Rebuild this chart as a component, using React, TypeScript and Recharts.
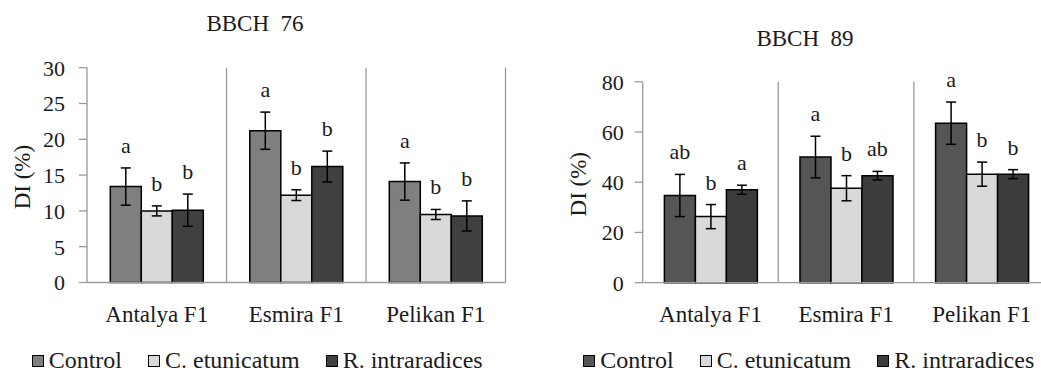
import React from 'react';
import { BarChart, Bar, XAxis, YAxis, CartesianGrid, ErrorBar, LabelList } from 'recharts';

const cultivars = ['Antalya F1', 'Esmira F1', 'Pelikan F1'];
const treatments = ['Control', 'C. etunicatum', 'R. intraradices'];

// BBCH 76
const control76 = [13.4, 21.2, 14.1];
const control76Err = [2.6, 2.6, 2.6];
const etun76 = [10.0, 12.2, 9.5];
const etun76Err = [0.7, 0.75, 0.7];
const intra76 = [10.1, 16.2, 9.3];
const intra76Err = [2.25, 2.15, 2.1];
const letters76 = [
  ['a', 'a', 'a'],
  ['b', 'b', 'b'],
  ['b', 'b', 'b'],
];
const ticks76 = [0, 5, 10, 15, 20, 25, 30];

// BBCH 89
const control89 = [34.7, 50.0, 63.5];
const control89Err = [8.4, 8.3, 8.4];
const etun89 = [26.3, 37.6, 43.2];
const etun89Err = [4.8, 5.0, 4.8];
const intra89 = [37.0, 42.6, 43.2];
const intra89Err = [1.8, 1.7, 1.8];
const letters89 = [
  ['ab', 'a', 'a'],
  ['b', 'b', 'b'],
  ['a', 'ab', 'b'],
];
const ticks89 = [0, 20, 40, 60, 80];

const FONT = '"Liberation Serif", "Times New Roman", serif';
const TEXT = '#1a1a1a';
const AXIS = '#9a9a9a';

const buildRows = (c: number[], ce: number[], e: number[], ee: number[], r: number[], re: number[]) =>
  cultivars.map((name, i) => ({
    name,
    control: c[i], controlErr: ce[i],
    etun: e[i], etunErr: ee[i],
    intra: r[i], intraErr: re[i],
  }));

const rows76 = buildRows(control76, control76Err, etun76, etun76Err, intra76, intra76Err);
const rows89 = buildRows(control89, control89Err, etun89, etun89Err, intra89, intra89Err);

// significance letter sits a little above the error bar cap
const makeLetter = (letters: string[], errs: number[]) => (props: any) => {
  const { x, y, width, height, value, index } = props;
  const v = Number(value);
  if (!v) return null;
  const px = Number(height) / v;
  const top = Number(y) - errs[index] * px;
  return (
    <text x={Number(x) + Number(width) / 2} y={top - 15} textAnchor="middle"
      fontFamily={FONT} fontSize={22} fill={TEXT}>
      {letters[index]}
    </text>
  );
};

const YLabel = (props: any) => {
  const vb = props.viewBox || {};
  const cx = vb.x + vb.width - 64;
  const cy = vb.y + vb.height / 2 + 2;
  return (
    <text x={cx} y={cy} transform={`rotate(-90 ${cx} ${cy})`} textAnchor="middle"
      dominantBaseline="central" fontFamily={FONT} fontSize={23} fill={TEXT}>
      DI (%)
    </text>
  );
};

type PanelProps = {
  title: string;
  rows: any[];
  letters: string[][];
  colors: string[];
  ticks: number[];
  left: number;
  width: number;
  chartWidth: number;
  margin: { top: number; right: number; bottom: number; left: number };
  titleX: number;
  titleTop: number;
  catGap: string;
  tickMargin: number;
  legendLeft: number;
};

const keys = ['control', 'etun', 'intra'];

const Panel = (p: PanelProps) => {
  const errCols = keys.map((k) => p.rows.map((r) => r[k + 'Err']));
  return (
    <div style={{ position: 'absolute', left: p.left, top: 0, width: p.width, height: 372, overflow: 'hidden' }}>
      <div style={{ position: 'absolute', left: p.titleX - 100, width: 200, top: p.titleTop, textAlign: 'center',
        fontFamily: FONT, fontSize: 23, lineHeight: '23px', color: TEXT, whiteSpace: 'pre' }}>
        {p.title}
      </div>
      <BarChart width={p.chartWidth} height={372} data={p.rows} margin={p.margin}
        barCategoryGap={p.catGap} barGap={0}>
        <CartesianGrid horizontal={false} stroke={AXIS} strokeWidth={1.3}
          verticalCoordinatesGenerator={({ offset }: any) =>
            [1, 2, 3].map((k) => offset.left + (offset.width * k) / 3)} />
        <XAxis dataKey="name" tickLine={false} tickSize={0} tickMargin={23} height={40}
          axisLine={{ stroke: AXIS, strokeWidth: 1.3 }}
          tick={{ fontFamily: FONT, fontSize: 23, fill: TEXT }} />
        <YAxis width={80} domain={[p.ticks[0], p.ticks[p.ticks.length - 1]]} ticks={p.ticks}
          interval={0} tickSize={8} tickMargin={p.tickMargin}
          axisLine={{ stroke: AXIS, strokeWidth: 1.3 }} tickLine={{ stroke: AXIS, strokeWidth: 1.3 }}
          tick={{ fontFamily: FONT, fontSize: 22, fill: TEXT }}
          label={<YLabel />} />
        {keys.map((k, i) => (
          <Bar key={k} dataKey={k} name={treatments[i]} fill={p.colors[i]} stroke="#000" strokeWidth={1.5}
            isAnimationActive={false}>
            <ErrorBar dataKey={k + 'Err'} direction="y" width={5} stroke="#000" strokeWidth={1.5}
              isAnimationActive={false} />
            <LabelList dataKey={k} content={makeLetter(p.letters[i], errCols[i])} />
          </Bar>
        ))}
      </BarChart>
      <div style={{ position: 'absolute', left: p.legendLeft, top: 348, display: 'flex', alignItems: 'center',
        fontFamily: FONT, fontSize: 24, lineHeight: '24px', color: TEXT, whiteSpace: 'nowrap' }}>
        {treatments.map((t, i) => (
          <div key={t} style={{ display: 'flex', alignItems: 'center', marginRight: 26 }}>
            <span style={{ display: 'inline-block', width: 10, height: 10, background: p.colors[i],
              border: '1px solid #000', marginRight: 5, marginTop: 2 }} />
            <span>{t}</span>
          </div>
        ))}
      </div>
    </div>
  );
};

export default function App() {
  return (
    <div style={{ position: 'absolute', left: 0, top: 0, width: 1041, height: 372, overflow: 'hidden', background: '#fff' }}>
      <Panel title={'BBCH  76'} rows={rows76} letters={letters76} colors={['#7f7f7f', '#d9d9d9', '#404040']}
        ticks={ticks76} left={0} width={520} chartWidth={520}
        margin={{ top: 67.7, right: 14.5, bottom: 49.5, left: 7 }}
        titleX={255} titleTop={11.5} catGap="16.7%" tickMargin={14} legendLeft={31.7} />
      <Panel title={'BBCH  89'} rows={rows89} letters={letters89} colors={['#555555', '#d9d9d9', '#3c3c3c']}
        ticks={ticks89} left={520} width={521} chartWidth={540}
        margin={{ top: 81.7, right: 10.5, bottom: 49.3, left: 42.7 }}
        titleX={285} titleTop={26.5} catGap="16%" tickMargin={11} legendLeft={63.3} />
    </div>
  );
}
